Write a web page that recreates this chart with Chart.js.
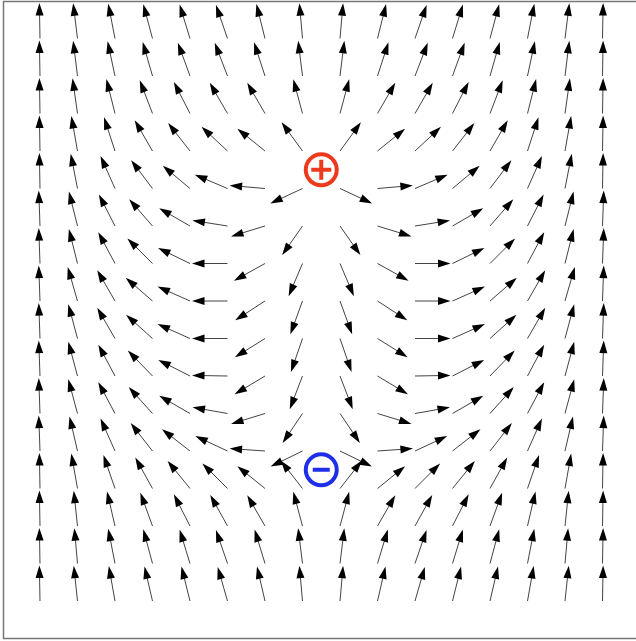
<!DOCTYPE html>
<html>
<head>
<meta charset="utf-8">
<script src="https://cdn.jsdelivr.net/npm/chart.js@4.4.1/dist/chart.umd.min.js"></script>
<style>
  html, body { margin: 0; padding: 0; background: #fff; }
  canvas { display: block; }
</style>
</head>
<body>
<canvas id="field" width="636" height="641"></canvas>
<script>
// ========== DATA ==========
// grid positions of the arrow tails (column / row index, row 0 = top)
const columns = [0, 1, 2, 3, 4, 5, 6, 7, 8, 9, 10, 11, 12, 13, 14, 15];
const rows = [0, 1, 2, 3, 4, 5, 6, 7, 8, 9, 10, 11, 12, 13, 14, 15];

// arrow direction in degrees (0 = right, 90 = up), one array per row, left to right
const row00 = [91, 97, 101, 105, 107, 109, 104, 95, 85, 76, 71, 73, 75, 79, 83, 89];
const row01 = [91, 97, 102, 106, 110, 111, 108, 97, 83, 72, 69, 70, 74, 78, 83, 89];
const row02 = [91, 98, 104, 111, 117, 120, 120, 105, 75, 60, 60, 63, 69, 76, 82, 89];
const row03 = [91, 100, 108, 120, 128, 137, 141, 126, 54, 39, 43, 52, 60, 72, 80, 89];
const row04 = [91, 101, 114, 127, 140, 157, 175, 205, -25, 5, 23, 40, 53, 66, 79, 89];
const row05 = [92, 104, 117, 131, 150, 171, 197, 235, -55, -17, 9, 30, 49, 63, 76, 88];
const row06 = [92, 104, 118, 135, 154, 180, 209, 247, -67, -29, 0, 26, 45, 62, 76, 88];
const row07 = [92, 106, 120, 139, 156, 180, 213, 250, -70, -33, 0, 24, 41, 60, 74, 88];
const row08 = [92, 105, 120, 138, 156, 180, 212, 251, -71, -32, 0, 24, 42, 60, 75, 88];
const row09 = [92, 105, 118, 134, 153, 179, 211, 249, -69, -31, 1, 27, 46, 62, 75, 88];
const row10 = [92, 105, 118, 132, 150, 170, 197, 236, -56, -17, 10, 30, 48, 62, 75, 88];
const row11 = [92, 103, 114, 128, 142, 155, 176, 206, -26, 4, 25, 38, 52, 66, 77, 88];
const row12 = [91, 100, 109, 119, 129, 135, 141, 128, 52, 39, 45, 51, 61, 71, 80, 89];
const row13 = [91, 96, 103, 110, 117, 119, 120, 105, 75, 60, 61, 63, 70, 77, 84, 89];
const row14 = [91, 95, 101, 105, 107, 109, 107, 97, 83, 73, 71, 73, 75, 79, 85, 89];
const row15 = [91, 96, 100, 103, 104, 106, 103, 95, 85, 77, 74, 76, 77, 80, 84, 89];
const angleRows = [row00, row01, row02, row03, row04, row05, row06, row07,
                   row08, row09, row10, row11, row12, row13, row14, row15];

// point charges
const chargeX = [7.5, 7.5];
const chargeY = [3.5, 11.5];
const chargeSigns = ['+', '-'];

// ========== STYLE ==========
const ARROW_LEN = 35.5;
const HEAD_LEN = 12.5;
const HEAD_HALF = 4;
const RED = '#ee3a1c';
const BLUE = '#1f2ee8';

// ========== BUILD POINTS ==========
const arrowPoints = [];
rows.forEach((r, j) => {
    columns.forEach((c, i) => {
        arrowPoints.push({ x: c, y: r, angle: angleRows[j][i] });
    });
});
const chargePoints = chargeX.map((x, k) => ({ x, y: chargeY[k] }));
const chargeColors = chargeSigns.map(s => s === '+' ? RED : BLUE);

// ========== PLUGIN ==========
const arrowPlugin = {
    id: 'arrows',
    beforeDraw(chart) {
        const ctx = chart.ctx;
        const a = chart.chartArea;
        ctx.save();
        ctx.fillStyle = '#fff';
        ctx.fillRect(0, 0, chart.width, chart.height);
        ctx.strokeStyle = '#777';
        ctx.lineWidth = 1.5;
        ctx.strokeRect(a.left, a.top, a.right - a.left + 2, a.bottom - a.top);
        ctx.restore();
    },
    afterDatasetsDraw(chart) {
        const ctx = chart.ctx;
        const meta = chart.getDatasetMeta(0);
        const data = chart.data.datasets[0].data;
        ctx.save();
        meta.data.forEach((pt, i) => {
            const rad = data[i].angle * Math.PI / 180;
            const dx = Math.cos(rad), dy = -Math.sin(rad);
            const tipX = pt.x + dx * ARROW_LEN, tipY = pt.y + dy * ARROW_LEN;
            const baseX = tipX - dx * HEAD_LEN, baseY = tipY - dy * HEAD_LEN;

            ctx.strokeStyle = '#444';
            ctx.lineWidth = 1;
            ctx.beginPath();
            ctx.moveTo(pt.x, pt.y);
            ctx.lineTo(baseX + dx * 2, baseY + dy * 2);
            ctx.stroke();

            ctx.fillStyle = '#000';
            ctx.beginPath();
            ctx.moveTo(tipX, tipY);
            ctx.lineTo(baseX - dy * HEAD_HALF, baseY + dx * HEAD_HALF);
            ctx.lineTo(baseX + dy * HEAD_HALF, baseY - dx * HEAD_HALF);
            ctx.closePath();
            ctx.fill();
        });
        ctx.restore();
    }
};

// ========== CHART ==========
new Chart(document.getElementById('field'), {
    type: 'scatter',
    data: {
        datasets: [
            { data: arrowPoints, pointRadius: 0, pointHoverRadius: 0 },
            {
                // signs (drawn above the rings: lower index is painted last)
                data: chargePoints,
                pointStyle: chargeSigns.map(s => s === '+' ? 'cross' : 'line'),
                pointRadius: chargeSigns.map(s => s === '+' ? 10 : 8.5),
                pointBorderWidth: 4,
                pointBorderColor: chargeColors,
                pointBackgroundColor: chargeColors
            },
            {
                data: chargePoints,
                pointStyle: 'circle',
                pointRadius: 15.5,
                pointBorderWidth: 4,
                pointBorderColor: chargeColors,
                pointBackgroundColor: '#fff'
            }
        ]
    },
    options: {
        responsive: false,
        animation: false,
        events: [],
        layout: { autoPadding: false, padding: { left: 3.5, top: 1.5, right: 0, bottom: 2.5 } },
        plugins: { legend: { display: false }, tooltip: { enabled: false } },
        scales: {
            x: { type: 'linear', min: -0.973, max: 15.893, display: false },
            y: { type: 'linear', min: -0.987, max: 16.0, reverse: true, display: false }
        }
    },
    plugins: [arrowPlugin]
});
</script>
</body>
</html>
